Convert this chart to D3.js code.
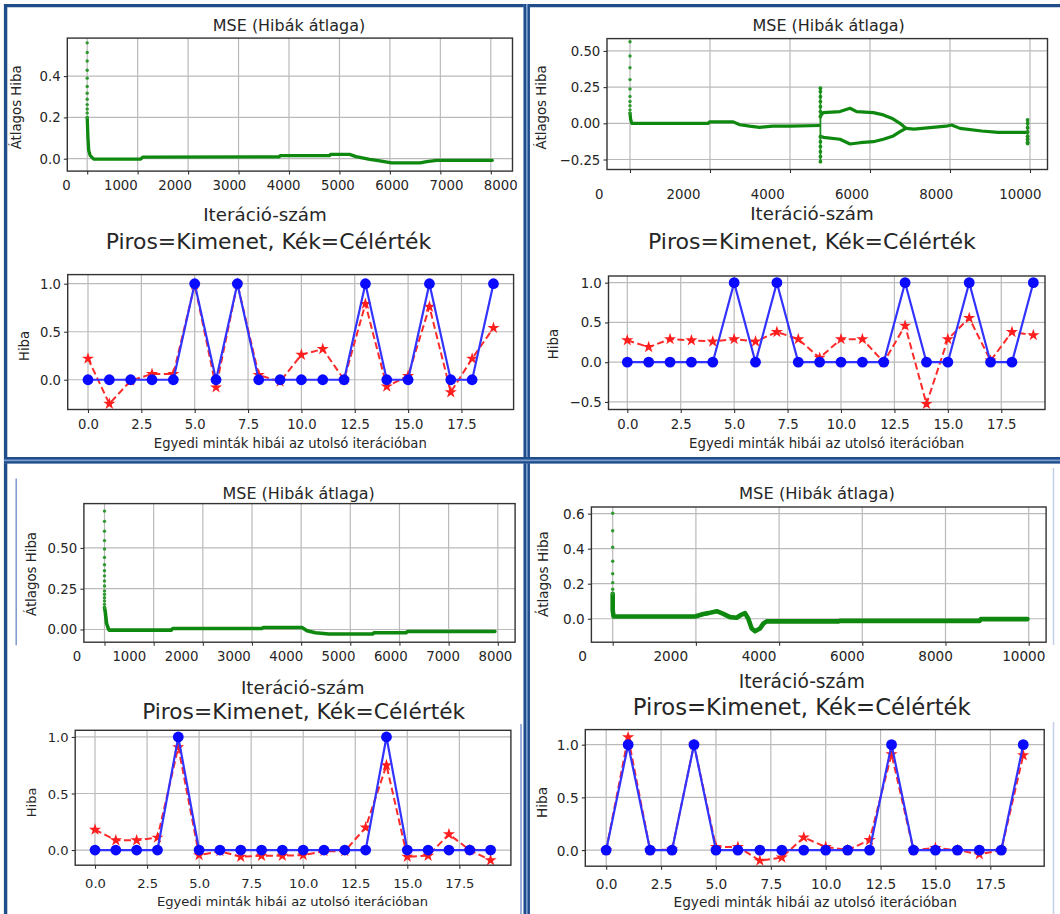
<!DOCTYPE html>
<html><head><meta charset="utf-8">
<script src="https://cdn.jsdelivr.net/npm/d3@7"></script>
<style>
body{margin:0;background:#fff}
svg{display:block}
text{font-family:"DejaVu Sans",sans-serif;fill:#262626}
</style>
</head><body>
<svg id="c" width="1060" height="914"></svg>
<script>
// ================= DATA =================
const sampleIndex = [0,1,2,3,4,5,6,7,8,9,10,11,12,13,14,15,16,17,18,19];
const sampleTicks = [0,2.5,5,7.5,10,12.5,15,17.5];

const targetA = [0,0,0,0,0,1,0,1,0,0,0,0,0,1,0,0,1,0,0,1];
const outputA = [0.22,-0.25,-0.01,0.06,0.06,0.99,-0.08,1.0,0.05,-0.02,0.26,0.32,0.0,0.79,-0.07,0.04,0.76,-0.13,0.22,0.54];
const targetB = [0,0,0,0,0,1,0,1,0,0,0,0,0,1,0,0,1,0,0,1];
const outputB = [0.275,0.19,0.29,0.275,0.26,0.29,0.26,0.38,0.29,0.055,0.29,0.29,0.0,0.46,-0.525,0.29,0.555,0.02,0.38,0.34];
const targetC = [0,0,0,0,1,0,0,0,0,0,0,0,0,0,1,0,0,0,0,0];
const outputC = [0.18,0.086,0.086,0.11,0.91,-0.045,-0.01,-0.06,-0.05,-0.05,-0.045,-0.01,-0.01,0.2,0.75,-0.06,-0.05,0.14,0.0,-0.09];
const targetD = [0,1,0,0,1,0,0,0,0,0,0,0,0,1,0,0,0,0,0,1];
const outputD = [0,1.07,0,0.005,1.0,0.03,0.03,-0.1,-0.07,0.12,0.03,0.0,0.095,0.91,0,0.02,0,-0.04,0,0.9];

const sampleYTicksA = [0,0.5,1.0];
const sampleYTicksB = [-0.5,0,0.5,1.0];
const sampleYTicksC = [0,0.5,1.0];
const sampleYTicksD = [0,0.5,1.0];

const mseYTicksA = [0,0.2,0.4];
const mseYTicksB = [-0.25,0,0.25,0.5];
const mseYTicksC = [0,0.25,0.5];
const mseYTicksD = [0,0.2,0.4,0.6];
const iterTicks8k  = [0,1000,2000,3000,4000,5000,6000,7000,8000];
const iterTicks10k = [0,2000,4000,6000,8000,10000];

// MSE A (top-left)
const mseSpikeA = [[0,0.561],[0,0.514],[0,0.473],[0,0.428],[0,0.390],[0,0.350],[0,0.317],[0,0.288],[0,0.262],[0,0.241],[0,0.221],[0,0.200]];
const mseCurveA = [[0,0.20],[15,0.10],[30,0.04],[60,0.015],[130,-0.002],[1060,-0.002],[1100,0.008],[3800,0.009],[3830,0.015],[4800,0.015],[4830,0.021],[5200,0.021],[5330,0.01],[5600,-0.003],[5800,-0.011],[6030,-0.02],[6600,-0.02],[6730,-0.014],[6930,-0.008],[8030,-0.008]];

// MSE B (top-right)
const mseSpikeB = [[0,0.563],[0,0.465],[0,0.384],[0,0.302],[0,0.237],[0,0.186],[0,0.151],[0,0.121],[0,0.093],[0,0.070]];
const mseCurveB = [[0,0.07],[15,0.03],[45,0.0],[1960,0.0],[1990,0.01],[2580,0.01],[2745,-0.01],[2990,-0.02],[3240,-0.028],[3570,-0.02],[4000,-0.02],[4740,-0.015]];
const mseUpperB = [[4760,0.05],[4833,0.074],[5250,0.081],[5500,0.104],[5667,0.081],[6083,0.074],[6333,0.058],[6542,0.035],[6750,0.0],[6900,-0.035]];
const mseLowerB = [[4760,-0.09],[4833,-0.097],[5250,-0.11],[5500,-0.143],[5750,-0.134],[6083,-0.127],[6333,-0.11],[6583,-0.087],[6750,-0.058],[6900,-0.035]];
const mseTailB  = [[6900,-0.035],[7100,-0.04],[7500,-0.03],[7900,-0.02],[8040,-0.012],[8250,-0.035],[8790,-0.053],[9200,-0.062],[9920,-0.062]];
const mseBurstB1 = [[4760,0.242],[4760,0.219],[4760,0.184],[4760,0.150],[4760,0.115],[4760,0.081],[4760,0.046],[4760,-0.092],[4760,-0.127],[4760,-0.161],[4760,-0.196],[4760,-0.230],[4760,-0.265]];
const mseBurstB2 = [[9940,0.023],[9940,0.0],[9940,-0.03],[9940,-0.06],[9940,-0.09],[9940,-0.11],[9940,-0.13],[9940,-0.14]];

// MSE C (bottom-left)
const mseSpikeC = [[0,0.726],[0,0.663],[0,0.603],[0,0.545],[0,0.494],[0,0.442],[0,0.397],[0,0.360],[0,0.329],[0,0.298],[0,0.267],[0,0.237],[0,0.216],[0,0.195],[0,0.175],[0,0.154],[0,0.134]];
const mseCurveC = [[0,0.134],[15,0.11],[40,0.04],[70,0.012],[92,-0.004],[1355,-0.004],[1389,0.006],[3198,0.006],[3232,0.012],[4017,0.012],[4119,-0.008],[4290,-0.02],[4563,-0.028],[5451,-0.028],[5485,-0.02],[6133,-0.02],[6167,-0.012],[7942,-0.012]];

// MSE D (bottom-right)
const mseSpikeD = [[0,0.602],[0,0.502],[0,0.408],[0,0.328],[0,0.257],[0,0.206],[0,0.168],[0,0.143]];
const mseCurveD = [[0,0.143],[0,0.05],[20,0.013],[1980,0.013],[2180,0.027],[2300,0.032],[2500,0.043],[2660,0.028],[2820,0.009],[2980,0.006],[3100,0.024],[3180,0.032],[3260,0.0],[3340,-0.056],[3420,-0.071],[3540,-0.056],[3620,-0.028],[3700,-0.015],[5430,-0.015],[5460,-0.012],[8820,-0.012],[8850,-0.002],[9970,-0.002]];

const TXT = {
  mseTitle: "MSE (Hibák átlaga)",
  mseY: "Átlagos Hiba",
  mseX: "Iteráció-szám",
  sTitle: "Piros=Kimenet, Kék=Célérték",
  sY: "Hiba",
  sX: "Egyedi minták hibái az utolsó iterációban"
};

// ================= DRAWING =================
const svg = d3.select("#c");
svg.append("rect").attr("width",1060).attr("height",914).attr("fill","#fff");
const defs = svg.append("defs");

function label(g, txt, x, y, fs, rot) {
  const t = g.append("text").attr("x",x).attr("y",y).attr("font-size",fs)
    .attr("text-anchor","middle").attr("dominant-baseline","central").text(txt);
  if (rot) t.attr("transform",`rotate(-90,${x},${y})`);
  return t;
}
function styleAxis(sel, fs) {
  sel.attr("font-family","DejaVu Sans").attr("font-size",fs).attr("color","#333");
  sel.select(".domain").remove();
  sel.selectAll(".tick line").attr("stroke","#333").attr("stroke-width",1.1);
  sel.selectAll(".tick text").attr("fill","#262626");
}
function gridAndFrame(g, x, y, xt, yt, f) {
  const [x0,y0,x1,y1] = f;
  g.append("rect").attr("x",x0).attr("y",y0).attr("width",x1-x0).attr("height",y1-y0).attr("fill","#fff");
  g.append("g").selectAll("line").data(xt).join("line")
    .attr("x1",d=>x(d)).attr("x2",d=>x(d)).attr("y1",y0).attr("y2",y1)
    .attr("stroke","#bababa").attr("stroke-width",1.2);
  g.append("g").selectAll("line").data(yt).join("line")
    .attr("y1",d=>y(d)).attr("y2",d=>y(d)).attr("x1",x0).attr("x2",x1)
    .attr("stroke","#bababa").attr("stroke-width",1.2);
}
function frameRect(g, f) {
  const [x0,y0,x1,y1] = f;
  g.append("rect").attr("x",x0).attr("y",y0).attr("width",x1-x0).attr("height",y1-y0)
    .attr("fill","none").attr("stroke","#333").attr("stroke-width",1.4);
}
let clipN = 0;
function clipFor(f) {
  const id = "cp"+(clipN++);
  defs.append("clipPath").attr("id",id).append("rect")
    .attr("x",f[0]).attr("y",f[1]).attr("width",f[2]-f[0]).attr("height",f[3]-f[1]);
  return `url(#${id})`;
}

function drawMSE(L, D) {
  const g = svg.append("g");
  const f = L.frame;
  const x = d3.scaleLinear().domain([0,1000]).range([L.gx0, L.gx0+L.gk]);
  const y = d3.scaleLinear().domain(L.yDom).range([f[3], f[1]]);
  const xl = d3.scaleLinear().domain([0,1000]).range([L.lx0, L.lx0+L.lk]);
  gridAndFrame(g, x, y, D.grid, D.yTicks, f);
  const pg = g.append("g").attr("clip-path", clipFor(f));
  const line = d3.line().x(d=>x(d[0])).y(d=>y(d[1]));
  D.curves.forEach(c => {
    pg.append("path").datum(c).attr("d",line).attr("fill","none")
      .attr("stroke","#0f880f").attr("stroke-width",L.lw)
      .attr("stroke-linejoin","round").attr("stroke-linecap","round");
  });
  D.bursts.forEach(b => {
    const ext = d3.extent(b, d=>d[1]);
    pg.append("path").datum([[b[0][0],ext[0]],[b[0][0],ext[1]]]).attr("d",line)
      .attr("stroke","#1d8f1d").attr("stroke-width",1.8);
    pg.append("g").selectAll("circle").data(b).join("circle")
      .attr("cx",d=>x(d[0])).attr("cy",d=>y(d[1])).attr("r",1.9).attr("fill","#1d8f1d");
  });
  pg.append("g").selectAll("circle").data(D.spike).join("circle")
    .attr("cx",d=>x(d[0])).attr("cy",d=>y(d[1])).attr("r",1.7).attr("fill","#2f982f");
  frameRect(g, f);
  g.append("g").attr("transform",`translate(0,${f[3]})`)
    .call(d3.axisBottom(x).tickValues(D.grid).tickSize(3.5).tickFormat(""))
    .call(s=>styleAxis(s, L.fs));
  g.append("g").attr("transform",`translate(${f[0]},0)`)
    .call(d3.axisLeft(y).tickValues(D.yTicks).tickSize(3.5).tickPadding(3.2).tickFormat(d3.format(D.yFmt)))
    .call(s=>{styleAxis(s, L.fs); s.selectAll(".tick text").attr("dy",null).attr("dominant-baseline","central");});
  g.append("g").attr("transform",`translate(0,${L.labY})`)
    .call(d3.axisBottom(xl).tickValues(D.labels).tickSize(0).tickPadding(0).tickFormat(d3.format("d")))
    .call(s=>{styleAxis(s, L.fs); s.selectAll(".tick text").attr("y",0).attr("dy",null).attr("dominant-baseline","central");});
  label(g, TXT.mseTitle, L.title[0], L.title[1], L.fs*1.2);
  label(g, TXT.mseX, L.xlab[0], L.xlab[1], L.fs*1.37);
  label(g, TXT.mseY, L.ylab[0], L.ylab[1], L.fs, true);
}

function drawSamples(L, out, tgt, yTicks) {
  const g = svg.append("g");
  const f = L.frame;
  const x = d3.scaleLinear().domain([0,1]).range([L.x0, L.x0+L.k]);
  const y = d3.scaleLinear().domain(L.yDom).range([f[3], f[1]]);
  gridAndFrame(g, x, y, sampleTicks, yTicks, f);
  const pg = g.append("g").attr("clip-path", clipFor([f[0]-8,f[1]-8,f[2]+8,f[3]+8]));
  const line = d3.line().x((d,i)=>x(sampleIndex[i])).y(d=>y(d));
  pg.append("path").datum(out).attr("d",line).attr("fill","none")
    .attr("stroke","#ff2a2a").attr("stroke-width",2).attr("stroke-dasharray","7,3.5");
  pg.append("g").selectAll("path").data(out).join("path")
    .attr("transform",(d,i)=>`translate(${x(sampleIndex[i])},${y(d)})`)
    .attr("d", d3.symbol(d3.symbolStar, 46)).attr("fill","#ff1e1e");
  pg.append("path").datum(tgt).attr("d",line).attr("fill","none")
    .attr("stroke","#3333ff").attr("stroke-width",2.2);
  pg.append("g").selectAll("circle").data(tgt).join("circle")
    .attr("cx",(d,i)=>x(sampleIndex[i])).attr("cy",d=>y(d)).attr("r",5.4).attr("fill","#0a0aff");
  frameRect(g, f);
  g.append("g").attr("transform",`translate(0,${f[3]})`)
    .call(d3.axisBottom(x).tickValues(sampleTicks).tickSize(3.5).tickPadding(0).tickFormat(d3.format(".1f")))
    .call(s=>{styleAxis(s, L.fs); s.selectAll(".tick text").attr("y",L.tickY-f[3]).attr("dy",null).attr("dominant-baseline","central");});
  g.append("g").attr("transform",`translate(${f[0]},0)`)
    .call(d3.axisLeft(y).tickValues(yTicks).tickSize(3.5).tickPadding(3.2).tickFormat(d3.format(".1f")))
    .call(s=>{styleAxis(s, L.fs); s.selectAll(".tick text").attr("dy",null).attr("dominant-baseline","central");});
  label(g, TXT.sTitle, L.title[0], L.title[1], L.fs*1.66);
  label(g, TXT.sX, L.xlab[0], L.xlab[1], L.fs);
  label(g, TXT.sY, L.ylab[0], L.ylab[1], L.fs, true);
}

// ---- MSE panels ----
drawMSE({frame:[67.3,38.1,512.5,171.1], gx0:87.2, gk:50.45, yDom:[-0.060,0.584],
         lx0:66.1, lk:54.26, labY:185.8, title:[289,25.2], xlab:[265,214.5], ylab:[16.8,107.4], fs:13.3, lw:3.3},
        {grid:iterTicks8k, labels:iterTicks8k, yTicks:mseYTicksA, yFmt:".1f",
         spike:mseSpikeA, curves:[mseCurveA], bursts:[]});
drawMSE({frame:[607,38.6,1047.5,169.5], gx0:630, gk:40, yDom:[-0.319,0.585],
         lx0:598.8, lk:42.11, labY:194.6, title:[828.7,25.2], xlab:[811.9,213.1], ylab:[541.7,107.4], fs:13.3, lw:3.2},
        {grid:iterTicks10k, labels:iterTicks10k, yTicks:mseYTicksB, yFmt:".2f",
         spike:mseSpikeB, curves:[mseCurveB, mseUpperB, mseLowerB, mseTailB], bursts:[mseBurstB1, mseBurstB2]});
drawMSE({frame:[83.9,503.6,515.1,642.2], gx0:104.5, gk:49.16, yDom:[-0.078,0.772],
         lx0:76.5, lk:52.3, labY:656.3, title:[298.7,493.6], xlab:[302.7,687], ylab:[31.9,574], fs:13.3, lw:3.6},
        {grid:iterTicks8k, labels:iterTicks8k, yTicks:mseYTicksC, yFmt:".2f",
         spike:mseSpikeC, curves:[mseCurveC], bursts:[]});
drawMSE({frame:[591.4,507,1046.1,642.2], gx0:612.7, gk:41.6, yDom:[-0.134,0.638],
         lx0:582, lk:44.13, labY:655.6, title:[816.9,493.6], xlab:[801.8,681.5], ylab:[543.4,574], fs:13.6, lw:4.6},
        {grid:iterTicks10k, labels:iterTicks10k, yTicks:mseYTicksD, yFmt:".1f",
         spike:mseSpikeD, curves:[mseCurveD], bursts:[]});

// ---- sample panels ----
drawSamples({frame:[67.7,274.6,513.6,409.5], x0:88, k:21.34, yDom:[-0.310,1.095], tickY:424.6,
             title:[268.5,241.7], xlab:[290.3,443.8], ylab:[24,346], fs:13.2}, outputA, targetA, sampleYTicksA);
drawSamples({frame:[608.5,276,1045,409.5], x0:627.3, k:21.37, yDom:[-0.595,1.084], tickY:424.6,
             title:[811.9,241.7], xlab:[826.7,443.8], ylab:[553.5,344], fs:13.3}, outputB, targetB, sampleYTicksB);
drawSamples({frame:[75.2,730.3,510.9,865.2], x0:95, k:20.82, yDom:[-0.134,1.059], tickY:884,
             title:[303.7,711.8], xlab:[292.5,901.4], ylab:[31.9,802.4], fs:13.1}, outputC, targetC, sampleYTicksC);
drawSamples({frame:[585.3,729.6,1044.2,866.2], x0:606.2, k:21.95, yDom:[-0.153,1.143], tickY:884,
             title:[801.8,707.4], xlab:[815.2,902.1], ylab:[541.7,802.4], fs:13.7}, outputD, targetD, sampleYTicksD);

// ---- panel borders ----
const B = svg.append("g").attr("fill","none");
const dark = "#1f4d8a";
B.append("line").attr("x1",4).attr("x2",1060).attr("y1",5.6).attr("y2",5.6).attr("stroke",dark).attr("stroke-width",3.4);
B.append("line").attr("x1",5.6).attr("x2",5.6).attr("y1",4).attr("y2",914).attr("stroke",dark).attr("stroke-width",3.4);
B.append("rect").attr("x",523.6).attr("y",4).attr("width",6.2).attr("height",910).attr("fill","#7b9ccd");
B.append("line").attr("x1",524.8).attr("x2",524.8).attr("y1",4).attr("y2",914).attr("stroke",dark).attr("stroke-width",2.4);
B.append("line").attr("x1",528.8).attr("x2",528.8).attr("y1",4).attr("y2",914).attr("stroke",dark).attr("stroke-width",2.2);
B.append("rect").attr("x",4).attr("y",457).attr("width",1056).attr("height",6.4).attr("fill","#7b9ccd");
B.append("line").attr("x1",4).attr("x2",1060).attr("y1",458.3).attr("y2",458.3).attr("stroke",dark).attr("stroke-width",2.6);
B.append("line").attr("x1",4).attr("x2",1060).attr("y1",462.3).attr("y2",462.3).attr("stroke",dark).attr("stroke-width",2.2);
B.append("line").attr("x1",16.2).attr("x2",16.2).attr("y1",478.6).attr("y2",645.3).attr("stroke","#7b98d0").attr("stroke-width",1.5);
B.append("line").attr("x1",521).attr("x2",521).attr("y1",724).attr("y2",914).attr("stroke","#7b98d0").attr("stroke-width",1.5);
B.append("line").attr("x1",1053.5).attr("x2",1053.5).attr("y1",468).attr("y2",645).attr("stroke","#c2cfe6").attr("stroke-width",1.5);
B.append("line").attr("x1",1053.5).attr("x2",1053.5).attr("y1",722).attr("y2",914).attr("stroke","#c2cfe6").attr("stroke-width",1.5);
</script>
</body></html>
